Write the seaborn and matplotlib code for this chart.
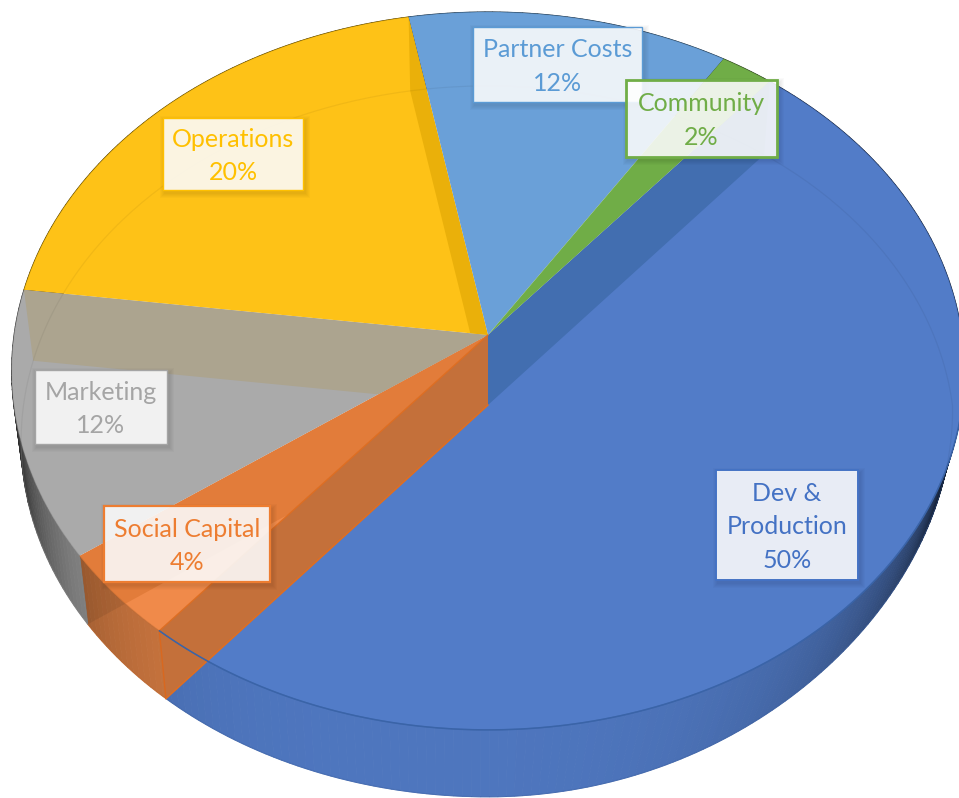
#!/usr/bin/env python3
# 3D looking pie: budget split
import numpy as np
import matplotlib
matplotlib.use('Agg')
import matplotlib.pyplot as plt
import seaborn as sns
from matplotlib.patches import Rectangle
from matplotlib.transforms import Transform

categories = ['Dev &\nProduction', 'Social Capital', 'Marketing', 'Operations', 'Partner Costs', 'Community']
shares = [50, 4, 12, 20, 12, 2]
top_colors = ['#527CC8', '#F08A4A', '#AAAAAA', '#FEC217', '#6AA0D8', '#70AD47']
text_colors = ['#4472C4', '#ED7D31', '#A5A5A5', '#FFC000', '#5B9BD5', '#70AD47']
side_colors = ['#527CC8', '#DC8044', '#AAAAAA', '#FEC217', '#6AA0D8', '#70AD47']

# label boxes: left, top, right, bottom in pixels
label_boxes = [(716, 470, 858, 580), (104, 506, 270, 582), (35, 370, 167, 444),
               (163, 118, 303, 190), (473, 27, 642, 102), (626, 80, 777, 157)]
box_widths = [1.4, 1.6, 1.0, 1.0, 1.0, 2.0]

# projection of the unit pie to pixels
CX, CY = 488, 335
A, B, D = 474, 355.4, 0.1
DEPTH = 70
START = 50.2


class Tilt(Transform):
    input_dims = 2
    output_dims = 2

    def transform_non_affine(self, values):
        values = np.asarray(values)
        den = 1 + D * values[:, 1]
        return np.column_stack((CX + A * values[:, 0] / den, CY - B * values[:, 1] / den))


tilt = Tilt()


def rim(theta, bottom=False):
    t = np.radians(theta)
    p = tilt.transform_non_affine(np.column_stack((np.cos(t), np.sin(t))))
    if bottom:
        # bottom face is a bit smaller, most of all at the front right
        shrink = 0.98 - 0.085 * np.clip(-np.sin(t), 0, 1) * (np.cos(t) > 0)
        p[:, 0] = CX + (p[:, 0] - CX) * shrink
        p[:, 1] += DEPTH + 0.5 + 3.5 * np.sin(t)
    return p


def wall(theta):
    top = rim(np.array([theta]))[0]
    low = rim(np.array([theta]), bottom=True)[0]
    return np.array([[CX, CY], top, low, [CX, CY + DEPTH]])


def shade(theta):
    span = 72 if theta < -100 else 90
    t = min(abs(theta + 100) / span, 1)
    return 0.95 - 0.85 * t ** 3


sns.set_theme(style='white')
plt.rcParams['font.family'] = ['Lato', 'DejaVu Sans']

fig = plt.figure(figsize=(9.59, 7.98), dpi=100)
ax = fig.add_axes([0, 0, 1, 1])

palette = sns.color_palette(top_colors)
wedges, _ = ax.pie(shares, colors=palette, startangle=START, counterclock=False,
                   wedgeprops={'linewidth': 0})
ax.set_aspect('auto')
ax.set_xlim(0, 959)
ax.set_ylim(798, 0)
ax.axis('off')

# sides, cut in thin strips for the shading
for w, col in zip(wedges, side_colors):
    base = np.array(matplotlib.colors.to_rgb(col))
    edges = np.arange(w.theta1, w.theta2 + 1, 1.0)
    edges[-1] = w.theta2
    for t0, t1 in zip(edges[:-1], edges[1:]):
        c = base * shade((t0 + t1) / 2)
        strip = np.vstack((rim(np.array([t0, t1])), rim(np.array([t1, t0]), bottom=True)))
        ax.fill(strip[:, 0], strip[:, 1], color=c, lw=0.6, zorder=1)

for w in wedges:
    w.set_transform(tilt + ax.transData)
    w.set_zorder(2)
dev, social, marketing, operations, partner, community = wedges

# inner walls showing through the translucent top
inner = [(dev.theta2, dev, '#426EB0'), (operations.theta1, operations, '#EAB00A'),
         (marketing.theta1, marketing, '#ACA48F'), (social.theta1, social, '#E27C3A')]
for theta, clip, col in inner:
    pts = wall(theta)
    poly = ax.fill(pts[:, 0], pts[:, 1], color=col, lw=0, zorder=3)[0]
    poly.set_clip_path(clip)

# side of the social slice, darker where its wall shows through
arc = np.linspace(social.theta1, social.theta2, 20)
side_pts = np.vstack((rim(arc), rim(arc[::-1], bottom=True)))
clip_side = ax.fill(side_pts[:, 0], side_pts[:, 1], color='none', lw=0, zorder=1)[0]
pts = wall(social.theta1)
poly = ax.fill(pts[:, 0], pts[:, 1], color='black', alpha=0.08, lw=0, zorder=3)[0]
poly.set_clip_path(clip_side)

# orange wall in front of the dev slice
pts = wall(social.theta2)
ax.fill(pts[:, 0], pts[:, 1], color='#C4703A', lw=0, zorder=3)
ax.plot(pts[1:3, 0], pts[1:3, 1], color='#D9681F', lw=1, zorder=4)
ax.plot(pts[2:, 0], pts[2:, 1], color='#DE6E22', lw=1.2, zorder=4)
ax.plot(pts[[0, 1], 0], pts[[0, 1], 1], color='#DE6E22', lw=1, zorder=4)

# outlines
for w, col in zip(wedges, text_colors):
    arc = np.linspace(w.theta1, w.theta2, 80)
    p = rim(arc)
    edge = np.array(matplotlib.colors.to_rgb(col)) * 0.8
    ax.plot(p[:, 0], p[:, 1], color=edge, lw=0.8, alpha=0.4, zorder=4)
    q = rim(arc, bottom=True)
    ax.plot(q[:, 0], q[:, 1], color=edge, lw=0.8, alpha=0.4, zorder=1.5)
arc = np.linspace(dev.theta1, -10, 120)
p = rim(arc)
ax.plot(p[:, 0], p[:, 1], color='#3A64A8', lw=1.1, zorder=4)

# far rim of the bottom face, faint through the top
arc = np.linspace(-10, 188, 200)
p = rim(arc, bottom=True)
ax.plot(p[:, 0], p[:, 1], color='black', lw=0.9, alpha=0.05, zorder=4)

# labels
for name, share, box, col, lw in zip(categories, shares, label_boxes, text_colors, box_widths):
    x0, y0, x1, y1 = box
    for grow in (5, 4, 3, 2, 1):
        ax.add_patch(Rectangle((x0 - grow + 2, y0 - grow + 3), x1 - x0 + 2 * grow, y1 - y0 + 2 * grow,
                               fc='black', ec='none', alpha=0.02, zorder=5))
    ax.add_patch(Rectangle((x0, y0), x1 - x0, y1 - y0, fc=(1, 1, 1, 0.88), ec=col,
                           lw=lw, zorder=5.5))
    ax.text((x0 + x1) / 2, (y0 + y1) / 2 + 2, f'{name}\n{share}%', color=col, fontsize=18,
            ha='center', va='center', linespacing=1.55, zorder=6)

fig.savefig('out.png', dpi=100, facecolor='white')
